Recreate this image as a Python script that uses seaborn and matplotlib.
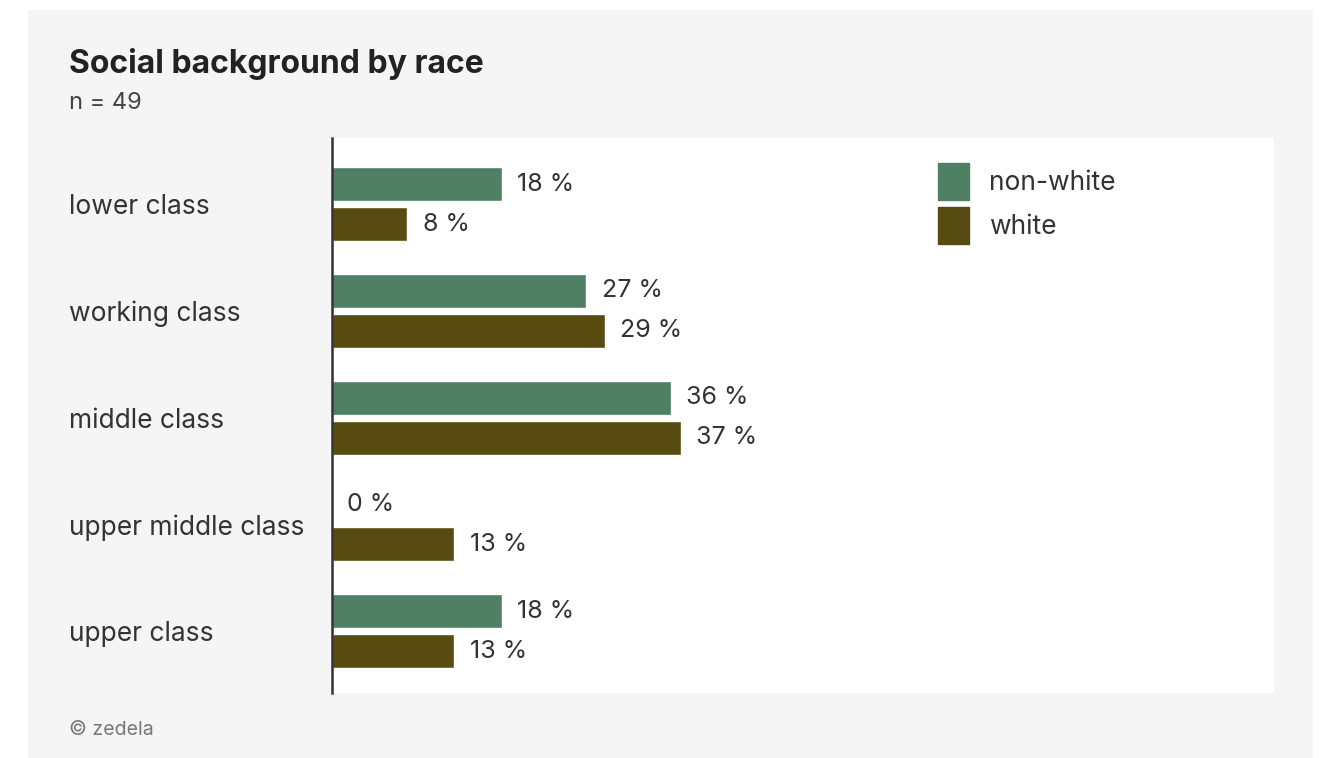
import pandas as pd
import matplotlib.pyplot as plt
import matplotlib.patches as mpatches
import seaborn as sns

# Data
categories = ["lower class", "working class", "middle class", "upper middle class", "upper class"]
non_white = [18, 27, 36, 0, 18]
white = [8, 29, 37, 13, 13]
groups = ["non-white", "white"]
colors = ["#4f8064", "#584b12"]

sns.set_theme(style="white")
plt.rcParams['font.family'] = ['Inter', 'DejaVu Sans']

# Long format table for seaborn
df = pd.DataFrame({
    "category": categories * 2,
    "share": non_white + white,
    "race": [groups[0]] * len(categories) + [groups[1]] * len(categories),
})

fig = plt.figure(figsize=(13.19, 7.58), dpi=100, facecolor="white")

# light grey card behind everything
fig.patches.append(mpatches.Rectangle((28 / 1319, 0.0), (1313 - 28) / 1319, 1 - 10 / 758,
                                      transform=fig.transFigure, facecolor="#f5f5f5",
                                      edgecolor="none", zorder=-10))

ax = fig.add_axes([332 / 1319, 1 - 693 / 758, (1274 - 332) / 1319, (693 - 138) / 758])
ax.set_facecolor("white")

sns.barplot(data=df, y="category", x="share", hue="race", orient="h",
            palette=colors, saturation=1, width=0.75, gap=0.15, ax=ax, legend=False)

for cont in ax.containers:
    ax.bar_label(cont, fmt="%.0f %%", padding=11, fontsize=18, color="#333333")

ax.set_xlim(0, 100)
ax.set_ylim(4.58, -0.62)
ax.set_xlabel("")
ax.set_ylabel("")
ax.set_xticks([])
for s in ["top", "right", "bottom"]:
    ax.spines[s].set_visible(False)
ax.spines["left"].set_color("#333333")
ax.spines["left"].set_linewidth(1.8)
ax.tick_params(axis="y", length=0, pad=263 * 0.72, labelsize=19, labelcolor="#333333")
for lbl in ax.get_yticklabels():
    lbl.set_horizontalalignment("left")

handles = [mpatches.Patch(color=c, label=g) for c, g in zip(colors, groups)]
fig.legend(handles=handles, loc="upper left", bbox_to_anchor=(938 / 1319, 1 - 163 / 758),
           frameon=False, fontsize=19, handlelength=1.17, handleheight=1.78,
           handletextpad=0.75, labelspacing=0.28, borderpad=0, borderaxespad=0,
           labelcolor="#333333")

fig.text(69 / 1319, 1 - 64 / 758, "Social background by race", fontsize=23, fontweight="bold",
         color="#222222", va="center", ha="left")
fig.text(69 / 1319, 1 - 103 / 758, "n = 49", fontsize=17, color="#444444",
         va="center", ha="left")
fig.text(69 / 1319, 1 - 730 / 758, "\u00a9 zedela", fontsize=14,
         color="#777777", va="center", ha="left")

fig.savefig("out.png", dpi=100, facecolor="white")
